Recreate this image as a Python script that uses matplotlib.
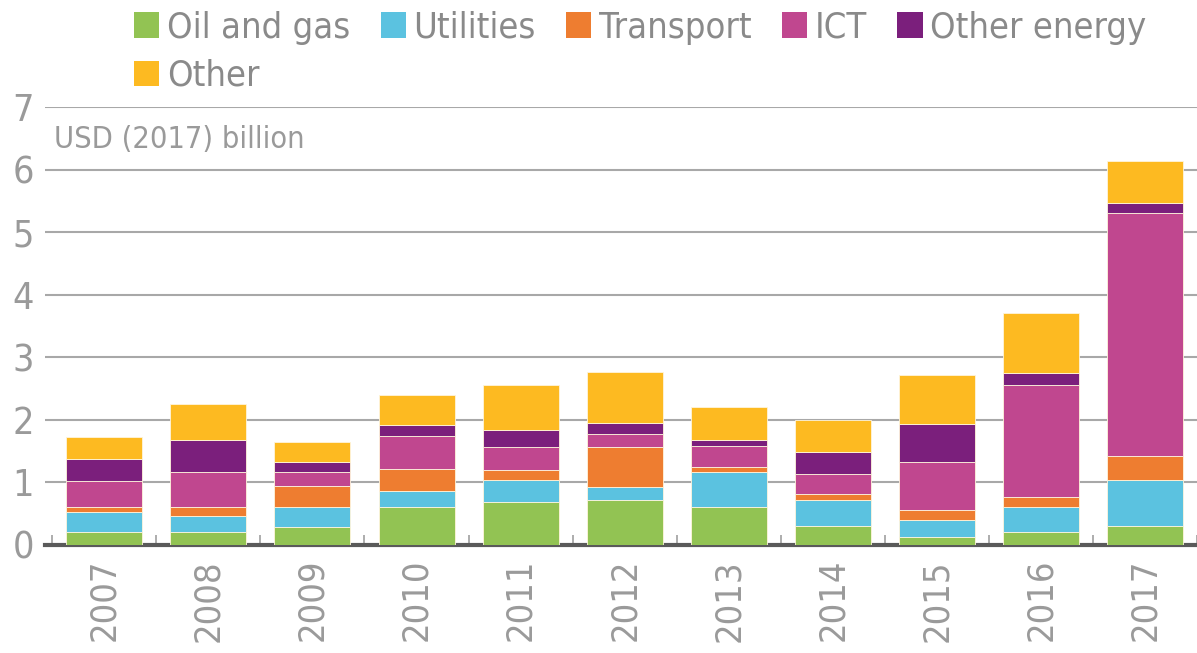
import numpy as np
import matplotlib
matplotlib.use('Agg')
import matplotlib.pyplot as plt
from matplotlib.patches import Patch

years = ['2007', '2008', '2009', '2010', '2011', '2012', '2013', '2014', '2015', '2016', '2017']

oil_gas = [0.21, 0.21, 0.28, 0.60, 0.69, 0.72, 0.60, 0.31, 0.12, 0.21, 0.31]
utilities = [0.32, 0.26, 0.32, 0.26, 0.35, 0.20, 0.57, 0.41, 0.28, 0.39, 0.73]
transport = [0.07, 0.13, 0.35, 0.35, 0.16, 0.64, 0.07, 0.10, 0.16, 0.16, 0.39]
ict = [0.42, 0.57, 0.22, 0.54, 0.36, 0.22, 0.35, 0.32, 0.77, 1.80, 3.88]
other_energy = [0.35, 0.51, 0.16, 0.16, 0.28, 0.17, 0.09, 0.35, 0.61, 0.19, 0.16]
other = [0.35, 0.58, 0.32, 0.49, 0.71, 0.82, 0.52, 0.51, 0.77, 0.95, 0.66]

series = [
	('Oil and gas', oil_gas, '#92c353'),
	('Utilities', utilities, '#5bc2e0'),
	('Transport', transport, '#ee7d30'),
	('ICT', ict, '#c0478f'),
	('Other energy', other_energy, '#7b1f7c'),
	('Other', other, '#fdba21'),
]

GREY = '#9a9a9a'
plt.rcParams['font.family'] = ['DejaVu Sans']
plt.rcParams['font.stretch'] = 'condensed'

fig = plt.figure(figsize=(11.97, 6.53), dpi=100)
ax = fig.add_axes([0.0376, 0.1654, 0.9624, 0.6707])

x = np.arange(len(years))
bottom = np.zeros(len(years))
for name, vals, col in series:
	ax.bar(x, vals, 0.73, bottom=bottom, color=col, edgecolor='#fff5dc', linewidth=0.6, zorder=3)
	bottom += np.array(vals)

ax.set_xlim(-0.57, 10.47)
ax.set_ylim(0, 7)
ax.set_yticks(range(8))
ax.yaxis.grid(True, color='#a8a8a8', linewidth=1.5, zorder=0)
ax.tick_params(axis='y', length=0, pad=8, labelsize=27, labelcolor=GREY)

ax.set_xticks(x)
ax.set_xticklabels(years, rotation=90)
ax.tick_params(axis='x', which='major', length=0, pad=10, labelsize=26, labelcolor=GREY)
ax.set_xticks(np.arange(-0.5, 10.6, 1), minor=True)
ax.tick_params(axis='x', which='minor', direction='in', length=7, width=1.2, color='#a0a0a0')

for s in ['top', 'left', 'right']:
	ax.spines[s].set_visible(False)
ax.spines['bottom'].set_color('#5a5a5a')
ax.spines['bottom'].set_linewidth(3)
ax.set_axisbelow(True)

ax.text(0.008, 0.96, 'USD (2017) billion', transform=ax.transAxes, fontsize=22,
	color=GREY, va='top', ha='left')

# legend fills by column, so put "Other" second to land it on the second row
order = [0, 5, 1, 2, 3, 4]
handles = [Patch(facecolor=series[i][2], edgecolor='none') for i in order]
labels = [series[i][0] for i in order]
leg = fig.legend(handles, labels, loc='upper left', bbox_to_anchor=(0.1, 1.006), ncol=5,
	frameon=False, fontsize=26, handlelength=0.7, handleheight=0.7, handletextpad=0.2,
	columnspacing=0.85, labelspacing=0.4, borderaxespad=0)
for t in leg.get_texts():
	t.set_color('#8a8a8a')

fig.savefig('out.png', dpi=100)
